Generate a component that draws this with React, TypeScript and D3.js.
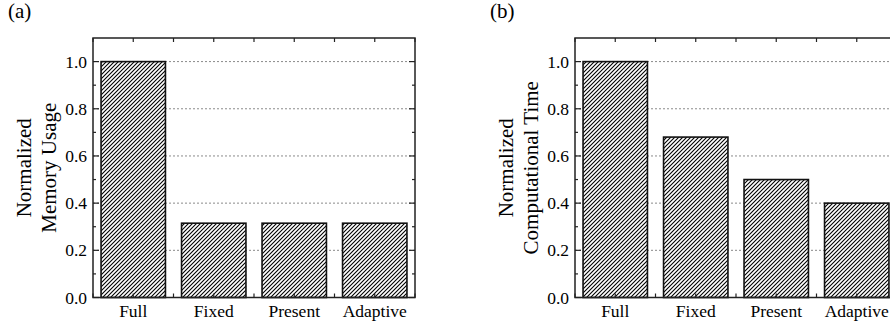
import React from "react";
import * as d3 from "d3";

const categories = ["Full", "Fixed", "Present", "Adaptive"];
const memoryUsage = [1.0, 0.315, 0.315, 0.315];
const computationalTime = [1.0, 0.68, 0.5, 0.4];
const yMajorTicks = [0, 0.2, 0.4, 0.6, 0.8, 1.0];
const yMinorTicks = [0.1, 0.3, 0.5, 0.7, 0.9];
const gridTicks = [0.2, 0.4, 0.6, 0.8, 1.0];
const panelLetters = ["(a)", "(b)"];
const titleLines = [
  ["Normalized", "Memory Usage"],
  ["Normalized", "Computational Time"],
];

const W = 890;
const H = 331;
const FONT = "'Liberation Serif', 'Times New Roman', serif";

function Panel({ x0, values, letter, title, id }: { x0: number; values: number[]; letter: string; title: string[]; id: string }) {
  const width = 322;
  const top = 38;
  const bottom = 297.5;
  const x = d3.scaleLinear().domain([0.5, 4.5]).range([x0, x0 + width]);
  const y = d3.scaleLinear().domain([0, 1.1]).range([bottom, top]);
  const barW = x(1.3) - x(0.5);
  const xHalf = d3.range(0.5, 4.51, 0.5);
  const axisColor = "#222";
  const cy = (top + bottom) / 2;
  return (
    <g>
      <defs>
        <pattern id={id} patternUnits="userSpaceOnUse" width={4} height={4}>
          <rect width={4} height={4} fill="#fff" />
          <path d="M-1,1 l2,-2 M0,4 l4,-4 M3,5 l2,-2" stroke="#000" strokeWidth={1.1} />
        </pattern>
      </defs>
      <text x={x0 - 85} y={18} fontFamily={FONT} fontSize={21}>{letter}</text>
      {/* grid */}
      {gridTicks.map((t) => (
        <line key={"g" + t} x1={x(0.5)} x2={x(4.5)} y1={y(t)} y2={y(t)} stroke="#8a8a8a" strokeWidth={1} strokeDasharray="2,2" />
      ))}
      {/* bars */}
      {values.map((v, i) => (
        <rect key={i} x={x(i + 1) - barW / 2} y={y(v)} width={barW} height={y(0) - y(v)} fill={`url(#${id})`} stroke="#111" strokeWidth={1.6} />
      ))}
      {/* frame */}
      <rect x={x(0.5)} y={top} width={width} height={bottom - top} fill="none" stroke={axisColor} strokeWidth={1.5} />
      {/* y ticks */}
      {yMajorTicks.map((t) => (
        <g key={"ym" + t}>
          <line x1={x(0.5)} x2={x(0.5) + 6} y1={y(t)} y2={y(t)} stroke={axisColor} strokeWidth={1.2} />
          <line x1={x(4.5)} x2={x(4.5) - 6} y1={y(t)} y2={y(t)} stroke={axisColor} strokeWidth={1.2} />
          <text x={x(0.5) - 6} y={y(t) + 6} textAnchor="end" fontFamily={FONT} fontSize={17.5}>{d3.format(".1f")(t)}</text>
        </g>
      ))}
      {yMinorTicks.map((t) => (
        <g key={"yn" + t}>
          <line x1={x(0.5)} x2={x(0.5) + 3} y1={y(t)} y2={y(t)} stroke={axisColor} strokeWidth={1.2} />
          <line x1={x(4.5)} x2={x(4.5) - 3} y1={y(t)} y2={y(t)} stroke={axisColor} strokeWidth={1.2} />
        </g>
      ))}
      {/* x ticks */}
      {xHalf.map((t) => (
        <g key={"x" + t}>
          <line x1={x(t)} x2={x(t)} y1={top} y2={top + 4} stroke={axisColor} strokeWidth={1.2} />
          <line x1={x(t)} x2={x(t)} y1={bottom} y2={bottom - 4} stroke={axisColor} strokeWidth={1.2} />
        </g>
      ))}
      {categories.map((c, i) => (
        <text key={c} x={x(i + 1)} y={317} textAnchor="middle" fontFamily={FONT} fontSize={17.5}>{c}</text>
      ))}
      {/* axis title */}
      {title.map((line, k) => (
        <text key={k} transform={`translate(${x0 - (k === 0 ? 62 : 37)},${cy}) rotate(-90)`} textAnchor="middle" fontFamily={FONT} fontSize={21}>{line}</text>
      ))}
    </g>
  );
}

export default function App() {
  return (
    <svg width={W} height={H} style={{ position: "absolute", left: 0, top: 0, background: "#fff" }}>
      <rect width={W} height={H} fill="#fff" />
      <Panel x0={93} values={memoryUsage} letter={panelLetters[0]} title={titleLines[0]} id="hatchA" />
      <Panel x0={575} values={computationalTime} letter={panelLetters[1]} title={titleLines[1]} id="hatchB" />
    </svg>
  );
}
